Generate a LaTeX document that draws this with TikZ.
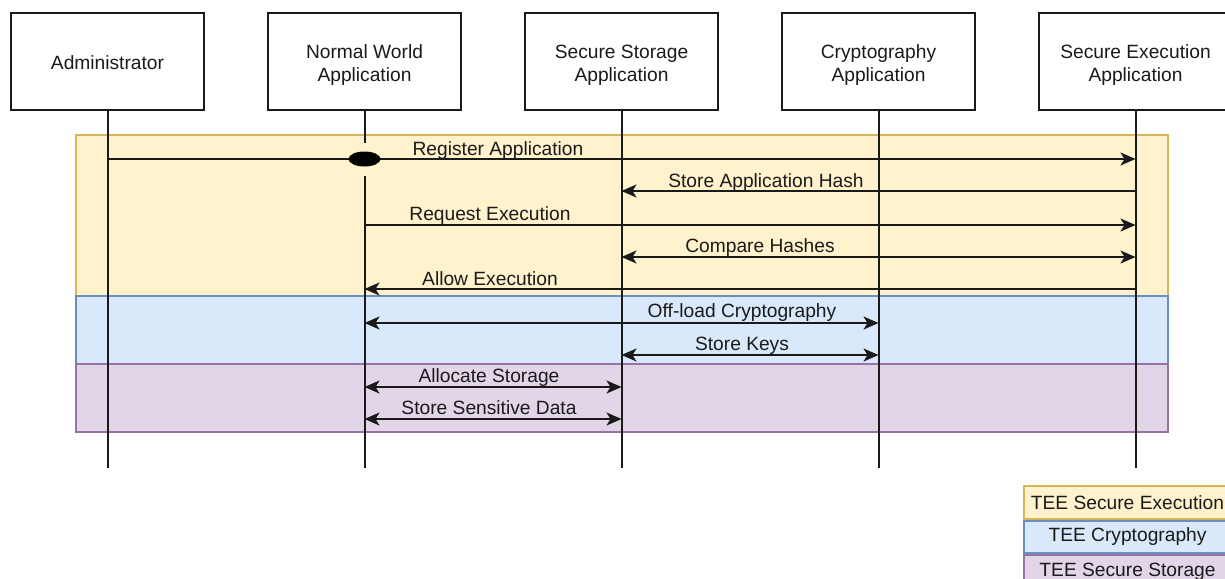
\documentclass[tikz,border=0pt]{standalone}
\usepackage{fontspec}
\setmainfont{Liberation Sans}
\usetikzlibrary{arrows.meta,shapes.geometric}
\definecolor{execfill}{HTML}{FFF2CC}
\definecolor{execline}{HTML}{D6B656}
\definecolor{cryptofill}{HTML}{DAE8FC}
\definecolor{cryptoline}{HTML}{6C8EBF}
\definecolor{storefill}{HTML}{E1D5E7}
\definecolor{storeline}{HTML}{9673A6}
\definecolor{ink}{HTML}{1A1A1A}
\begin{document}
\begin{tikzpicture}[x=1pt,y=-1pt,
  font=\fontsize{19.2}{23}\selectfont,
  >={Stealth[length=15pt,width=13pt,inset=4pt]},
  actor/.style={draw=ink,line width=2pt,fill=white,minimum width=193pt,
    minimum height=97pt,inner sep=0pt},
  actortext/.style={inner sep=0pt,align=center,text=ink,yshift=-3.5pt},
  lifeline/.style={draw=ink,line width=2pt},
  msg/.style={draw=ink,line width=2pt},
  lbl/.style={inner sep=0pt,text=ink,anchor=base},
  band/.style={line width=2pt},
  legendbox/.style={line width=2pt,minimum width=207pt,inner sep=0pt,text=ink}]
\useasboundingbox (0,0) rectangle (1225,578);

% trust zones
\draw[band,fill=execfill,draw=execline] (76,135) rectangle (1168,296);
\draw[band,fill=cryptofill,draw=cryptoline] (76,296) rectangle (1168,364);
\draw[band,fill=storefill,draw=storeline] (76,364) rectangle (1168,432);

% participants
\node[actor] (adm) at (107.5,61.5) {};
\node[actor] (nwa) at (364.5,61.5) {};
\node[actor] (ssa) at (621.5,61.5) {};
\node[actor] (cra) at (878.5,61.5) {};
\node[actor] (sea) at (1135.5,61.5) {};
\node[actortext,yshift=2.5pt] (admT) at (adm.center) {Administrator};
\node[actortext] (nwaT) at (nwa.center) {Normal World\\Application};
\node[actortext] (ssaT) at (ssa.center) {Secure Storage\\Application};
\node[actortext] (craT) at (cra.center) {Cryptography\\Application};
\node[actortext] (seaT) at (sea.center) {Secure Execution\\Application};

% lifeline ends
\coordinate (admE) at (adm.south |- 0,468);
\coordinate (nwaE) at (nwa.south |- 0,468);
\coordinate (ssaE) at (ssa.south |- 0,468);
\coordinate (craE) at (cra.south |- 0,468);
\coordinate (seaE) at (sea.south |- 0,468);
\coordinate (nwaGapTop) at (nwa.south |- 0,143);
\coordinate (nwaGapBot) at (nwa.south |- 0,176);

\draw[lifeline] (adm.south) -- (admE);
\draw[lifeline] (nwa.south) -- (nwaGapTop);
\draw[lifeline] (nwaGapBot) -- (nwaE);
\draw[lifeline] (ssa.south) -- (ssaE);
\draw[lifeline] (cra.south) -- (craE);
\draw[lifeline] (sea.south) -- (seaE);

% messages (labels sit on a baseline 5pt above their line)
\draw[msg,->] (adm.south |- 0,159) -- (sea.south |- 0,159);
\node[ellipse,fill=black,minimum width=32pt,minimum height=15pt,inner sep=0pt] (mark) at (nwa.south |- 0,159) {};
\node[lbl] (m1) at (498,155) {Register Application};

\draw[msg,->] (sea.south |- 0,191) -- (ssa.south |- 0,191);
\node[lbl] (m2) at (766,187) {Store Application Hash};

\draw[msg,->] (nwa.south |- 0,225) -- (sea.south |- 0,225);
\node[lbl] (m3) at (490,220) {Request Execution};

\draw[msg,<->] (ssa.south |- 0,257) -- (sea.south |- 0,257);
\node[lbl] (m4) at (760,252) {Compare Hashes};

\draw[msg,->] (sea.south |- 0,289) -- (nwa.south |- 0,289);
\node[lbl] (m5) at (490,285) {Allow Execution};

\draw[msg,<->] (nwa.south |- 0,323) -- (cra.south |- 0,323);
\node[lbl] (m6) at (742,317.5) {Off-load Cryptography};

\draw[msg,<->] (ssa.south |- 0,355) -- (cra.south |- 0,355);
\node[lbl] (m7) at (742,350) {Store Keys};

\draw[msg,<->] (nwa.south |- 0,387) -- (ssa.south |- 0,387);
\node[lbl] (m8) at (489,382.5) {Allocate Storage};

\draw[msg,<->] (nwa.south |- 0,419) -- (ssa.south |- 0,419);
\node[lbl] (m9) at (489,414) {Store Sensitive Data};

% legend
\node[legendbox,draw=execline,fill=execfill,minimum height=33pt,anchor=north west] (lgE) at (1023,485) {TEE Secure Execution};
\node[legendbox,draw=cryptoline,fill=cryptofill,minimum height=32pt,anchor=north] (lgC) at (lgE.south) {TEE Cryptography};
\node[legendbox,draw=storeline,fill=storefill,minimum height=33pt,anchor=north] (lgS) at (lgC.south) {TEE Secure Storage};
\end{tikzpicture}
\end{document}
